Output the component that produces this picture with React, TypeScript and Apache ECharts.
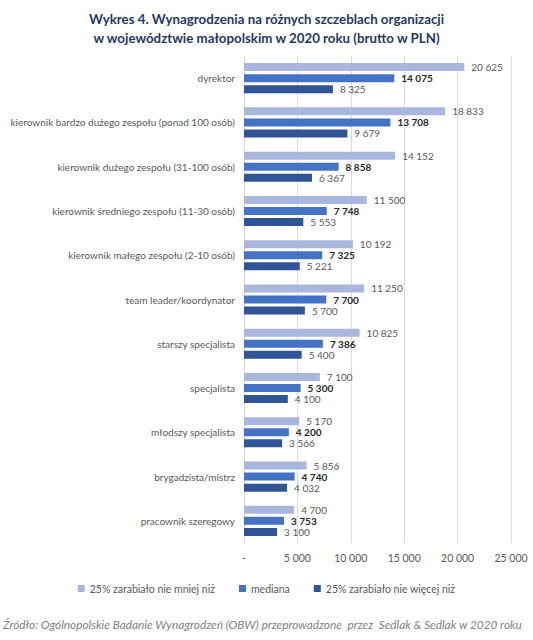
import React, { useEffect, useRef } from "react";
import * as echarts from "echarts";

const categories = [
  "dyrektor",
  "kierownik bardzo dużego zespołu (ponad 100 osób)",
  "kierownik dużego zespołu (31-100 osób)",
  "kierownik średniego zespołu (11-30 osób)",
  "kierownik małego zespołu (2-10 osób)",
  "team leader/koordynator",
  "starszy specjalista",
  "specjalista",
  "młodszy specjalista",
  "brygadzista/mistrz",
  "pracownik szeregowy",
];
const upperQuartile = [20625, 18833, 14152, 11500, 10192, 11250, 10825, 7100, 5170, 5856, 4700];
const medianValues = [14075, 13708, 8858, 7748, 7325, 7700, 7386, 5300, 4200, 4740, 3753];
const lowerQuartile = [8325, 9679, 6367, 5553, 5221, 5700, 5400, 4100, 3566, 4032, 3100];
const seriesNames = ["25% zarabiało nie mniej niż", "mediana", "25% zarabiało nie więcej niż"];
const seriesColors = ["#a9b7de", "#4472c4", "#2f5597"];
const xMin = 0;
const xMax = 25000;
const xStep = 5000;

const titleText =
  "Wykres 4. Wynagrodzenia na różnych szczeblach organizacji\nw województwie małopolskim w 2020 roku (brutto w PLN)";
const sourceText =
  "Źródło: Ogólnopolskie Badanie Wynagrodzeń (OBW) przeprowadzone  przez  Sedlak & Sedlak w 2020 roku";

const FONT = "Lato";

function fmt(v: number): string {
  if (v === 0) return "-";
  return String(v).replace(/\B(?=(\d{3})+(?!\d))/g, " ");
}

export default function App() {
  const ref = useRef<HTMLDivElement>(null);
  useEffect(() => {
    document.body.style.margin = "0";
    if (!ref.current) return;
    const chart = echarts.init(ref.current, null, { renderer: "svg" });
    const data = [upperQuartile, medianValues, lowerQuartile];
    chart.setOption({
      animation: false,
      backgroundColor: "#ffffff",
      textStyle: { fontFamily: FONT },
      title: {
        text: titleText,
        left: "center",
        top: 4,
        textStyle: {
          fontFamily: FONT,
          fontSize: 13.3,
          fontWeight: "bold",
          color: "#1f3864",
          lineHeight: 19,
        },
      },
      legend: {
        data: seriesNames,
        left: "center",
        top: 578,
        icon: "rect",
        itemWidth: 7,
        itemHeight: 7,
        itemGap: 24,
        textStyle: { fontFamily: FONT, fontSize: 10.5, color: "#595959" },
      },
      grid: {
        left: 244,
        right: 22,
        top: 56,
        bottom: 97,
        containLabel: false,
        outerBoundsMode: "none",
      },
      xAxis: {
        type: "value",
        min: xMin,
        max: xMax,
        interval: xStep,
        axisLine: { show: false },
        axisTick: { show: false },
        splitLine: { show: true, lineStyle: { color: "#d9d9d9", width: 1 } },
        axisLabel: {
          formatter: (v: number) => fmt(v),
          color: "#595959",
          fontSize: 10.5,
          fontFamily: FONT,
          margin: 9,
        },
      },
      yAxis: {
        type: "category",
        data: categories,
        inverse: true,
        axisLine: { show: true, lineStyle: { color: "#d9d9d9" } },
        axisTick: { show: false },
        axisLabel: { color: "#595959", fontSize: 10, fontFamily: FONT, margin: 9 },
      },
      graphic: [
        {
          type: "text",
          left: 3,
          top: 618,
          style: {
            text: sourceText,
            fontFamily: FONT,
            fontStyle: "italic",
            fontSize: 11.8,
            fill: "#7f7f7f",
          },
        },
      ],
      series: seriesNames.map((name, i) => ({
        name,
        type: "bar",
        data: data[i],
        barWidth: 8,
        barGap: "38%",
        itemStyle: { color: seriesColors[i] },
        label: {
          show: true,
          position: "right",
          distance: 7,
          formatter: (p: any) => fmt(p.value),
          fontFamily: FONT,
          fontSize: 10,
          lineHeight: 11,
          color: i === 1 ? "#262626" : "#595959",
          fontWeight: i === 1 ? "bold" : "normal",
        },
      })),
    });
    return () => chart.dispose();
  }, []);
  return <div ref={ref} style={{ width: 533, height: 640 }} />;
}
